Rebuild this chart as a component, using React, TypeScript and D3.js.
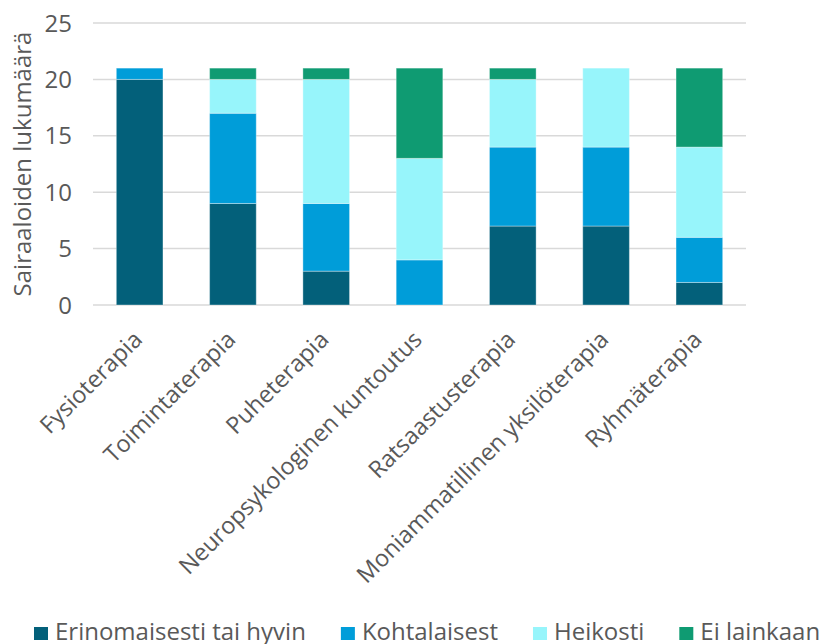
import React, { useEffect, useRef } from "react";
import * as d3 from "d3";

const categories = [
  "Fysioterapia",
  "Toimintaterapia",
  "Puheterapia",
  "Neuropsykologinen kuntoutus",
  "Ratsaastusterapia",
  "Moniammatillinen yksilöterapia",
  "Ryhmäterapia",
];
const seriesNames = ["Erinomaisesti tai hyvin", "Kohtalaisest", "Heikosti", "Ei lainkaan"];
const erinomaisesti = [20, 9, 3, 0, 7, 7, 2];
const kohtalaisest = [1, 8, 6, 4, 7, 7, 4];
const heikosti = [0, 3, 11, 9, 6, 7, 8];
const eiLainkaan = [0, 1, 1, 8, 1, 0, 7];
const yTicks = [0, 5, 10, 15, 20, 25];
const yTitle = "Sairaaloiden lukumäärä";
const colors = ["#03607a", "#009dd9", "#97f5fb", "#0f9b72"];

const W = 821;
const H = 644;
const FONT = "'Open Sans', 'DejaVu Sans', sans-serif";
const TEXT = "#595959";
const FS = 24;

export default function App() {
  const ref = useRef<SVGSVGElement | null>(null);

  useEffect(() => {
    const svg = d3.select(ref.current);
    svg.selectAll("*").remove();

    const table = categories.map((c, i) => ({
      cat: c,
      [seriesNames[0]]: erinomaisesti[i],
      [seriesNames[1]]: kohtalaisest[i],
      [seriesNames[2]]: heikosti[i],
      [seriesNames[3]]: eiLainkaan[i],
    }));
    const stacked = d3.stack<any>().keys(seriesNames)(table);

    const x = d3.scaleBand<string>().domain(categories).range([93, 746]).paddingInner(0.5).paddingOuter(0.25);
    const y = d3.scaleLinear().domain([0, 25]).range([305, 23]);
    const color = d3.scaleOrdinal<string, string>().domain(seriesNames).range(colors);

    // gridlines
    svg
      .append("g")
      .selectAll("line")
      .data(yTicks)
      .join("line")
      .attr("x1", 93)
      .attr("x2", 746)
      .attr("y1", (d) => y(d))
      .attr("y2", (d) => y(d))
      .attr("stroke", "#d9d9d9")
      .attr("stroke-width", 1.5);

    // y tick labels
    svg
      .append("g")
      .selectAll("text")
      .data(yTicks)
      .join("text")
      .attr("x", 72)
      .attr("y", (d) => y(d))
      .attr("dy", "0.36em")
      .attr("text-anchor", "end")
      .attr("font-family", FONT)
      .attr("font-size", FS)
      .attr("fill", TEXT)
      .text((d) => String(d));

    // y title
    svg
      .append("text")
      .attr("transform", `translate(22,${(y(0) + y(25)) / 2}) rotate(-90)`)
      .attr("dy", "0.36em")
      .attr("text-anchor", "middle")
      .attr("font-family", FONT)
      .attr("font-size", FS)
      .attr("fill", TEXT)
      .text(yTitle);

    // bars
    svg
      .append("g")
      .selectAll("g")
      .data(stacked)
      .join("g")
      .attr("fill", (s) => color(s.key))
      .selectAll("rect")
      .data((s) => s.filter((d) => d[1] - d[0] > 0))
      .join("rect")
      .attr("x", (d) => x(d.data.cat)!)
      .attr("width", x.bandwidth())
      .attr("y", (d) => y(d[1]))
      .attr("height", (d) => y(d[0]) - y(d[1]))
      .attr("stroke", "rgba(255,255,255,0.35)")
      .attr("stroke-width", 1);

    // category labels
    svg
      .append("g")
      .selectAll("text")
      .data(categories)
      .join("text")
      .attr("transform", (d) => `translate(${x(d)! + x.bandwidth() / 2 + 4},${341}) rotate(-45)`)
      .attr("text-anchor", "end")
      .attr("font-family", FONT)
      .attr("font-size", 23.5)
      .attr("fill", TEXT)
      .text((d) => d);

    // legend
    const lg = svg.append("g");
    let lx = 34;
    seriesNames.forEach((name, i) => {
      lg.append("rect")
        .attr("x", lx)
        .attr("y", 627)
        .attr("width", 14)
        .attr("height", 13)
        .attr("fill", colors[i]);
      const t = lg
        .append("text")
        .attr("x", lx + 21)
        .attr("y", 640)
        .attr("font-family", FONT)
        .attr("font-size", FS)
        .attr("fill", TEXT)
        .text(name);
      const w = (t.node() as SVGTextElement).getComputedTextLength();
      lx = lx + 21 + w + 35;
    });
  }, []);

  return (
    <div style={{ position: "fixed", left: 0, top: 0, width: W, height: H, background: "#fff" }}>
      <svg ref={ref} width={W} height={H} style={{ display: "block" }} />
    </div>
  );
}
